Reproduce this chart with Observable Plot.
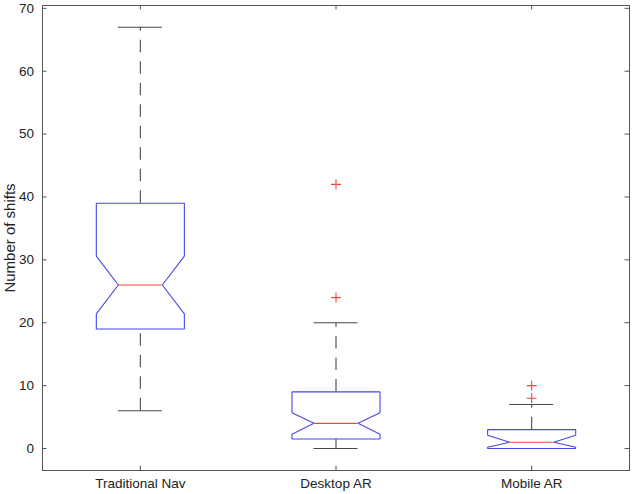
<!DOCTYPE html>
<html><head><meta charset="utf-8">
<script src="https://cdn.jsdelivr.net/npm/d3@7"></script>
<script src="https://cdn.jsdelivr.net/npm/@observablehq/plot@0.6"></script>
<style>body{margin:0;background:#fff} #chart{width:633px;height:494px}</style>
</head><body><div id="chart"></div>
<script>
// Data
const categories = ["Traditional Nav", "Desktop AR", "Mobile AR"];
const q1 = [19, 1.5, 0];
const median = [26, 4, 1];
const q3 = [39, 9, 3];
const notchLo = [21.4, 2.25, 0.2];
const notchHi = [30.6, 5.7, 2.1];
const whiskerLo = [6, 0, 0];
const whiskerHi = [67, 20, 7];
const outlierGroup = ["Desktop AR", "Desktop AR", "Mobile AR", "Mobile AR"];
const outlierValue = [42, 24, 10, 8];
const yTicks = [0, 10, 20, 30, 40, 50, 60, 70];

// Layout / style constants
const W = 633, H = 494;
const mL = 42, mR = 4, mT = 5, mB = 24;
const xDomain = [0.5, 3.5], yDomain = [-3.5, 70.45];
const halfW = 0.225, notchW = 0.1125;
const BLUE = "#4646ee", RED = "#f04545", BLACK = "#4a4a4a", TXT = "#222";
const pxX = (W - mL - mR) / (xDomain[1] - xDomain[0]);
const pxY = (H - mT - mB) / (yDomain[1] - yDomain[0]);
const tickLen = 4.5;

const groups = categories.map((c, i) => ({
  cat: c, pos: i + 1, q1: q1[i], med: median[i], q3: q3[i],
  nLo: notchLo[i], nHi: notchHi[i], wLo: whiskerLo[i], wHi: whiskerHi[i]
}));

const boxPts = groups.flatMap(g => {
  const p = g.pos;
  const pts = [
    [p - halfW, g.q1], [p - halfW, g.nLo], [p - notchW, g.med], [p - halfW, g.nHi], [p - halfW, g.q3],
    [p + halfW, g.q3], [p + halfW, g.nHi], [p + notchW, g.med], [p + halfW, g.nLo], [p + halfW, g.q1],
    [p - halfW, g.q1]
  ];
  return pts.map(([x, y]) => ({cat: g.cat, x, y}));
});

const outliers = outlierValue.map((v, i) => ({pos: categories.indexOf(outlierGroup[i]) + 1, v}));
const xTickPos = categories.map((c, i) => i + 1);

const chart = Plot.plot({
  width: W, height: H,
  marginLeft: mL, marginRight: mR, marginTop: mT, marginBottom: mB,
  x: {domain: xDomain},
  y: {domain: yDomain},
  style: {fontFamily: "'Liberation Sans', Arial, Helvetica, sans-serif", fontSize: "13.5px", background: "white", color: TXT},
  marks: [
    // whiskers (dashed)
    Plot.ruleX(groups, {x: "pos", y1: "wLo", y2: "q1", stroke: BLACK, strokeWidth: 1.1, strokeDasharray: "12.5,9"}),
    Plot.ruleX(groups, {x: "pos", y1: "q3", y2: "wHi", stroke: BLACK, strokeWidth: 1.1, strokeDasharray: "12.5,9"}),
    // caps
    Plot.ruleY(groups, {y: "wLo", x1: d => d.pos - notchW, x2: d => d.pos + notchW, stroke: BLACK, strokeWidth: 1.1}),
    Plot.ruleY(groups, {y: "wHi", x1: d => d.pos - notchW, x2: d => d.pos + notchW, stroke: BLACK, strokeWidth: 1.1}),
    // notched boxes
    Plot.line(boxPts, {x: "x", y: "y", z: "cat", stroke: BLUE, strokeWidth: 1.1, strokeLinejoin: "miter", curve: "linear"}),
    // medians
    Plot.ruleY(groups, {y: "med", x1: d => d.pos - notchW, x2: d => d.pos + notchW, stroke: RED, strokeWidth: 1.1}),
    // outliers
    Plot.dot(outliers, {x: "pos", y: "v", symbol: "plus", r: 3.3, stroke: RED, strokeWidth: 1.1}),
    // frame
    Plot.frame({stroke: "#555", strokeWidth: 1}),
    // inward ticks
    Plot.ruleY(yTicks, {y: d => d, x1: xDomain[0], x2: xDomain[0] + tickLen / pxX, stroke: "#555"}),
    Plot.ruleY(yTicks, {y: d => d, x1: xDomain[1] - tickLen / pxX, x2: xDomain[1], stroke: "#555"}),
    Plot.ruleX(xTickPos, {x: d => d, y1: yDomain[0], y2: yDomain[0] + tickLen / pxY, stroke: "#555"}),
    Plot.ruleX(xTickPos, {x: d => d, y1: yDomain[1] - tickLen / pxY, y2: yDomain[1], stroke: "#555"}),
    // tick labels
    Plot.axisY({ticks: yTicks, tickSize: 0, tickPadding: 8.5, label: null, fill: TXT}),
    Plot.axisX({ticks: xTickPos, tickFormat: d => categories[d - 1], tickSize: 0, tickPadding: 8, label: null, fill: TXT}),
    // y label
    Plot.text(["Number of shifts"], {frameAnchor: "left", rotate: -90, dx: -32, textAnchor: "middle", fontSize: 15, fill: TXT})
  ]
});
document.getElementById("chart").appendChild(chart);
</script>
</body></html>
